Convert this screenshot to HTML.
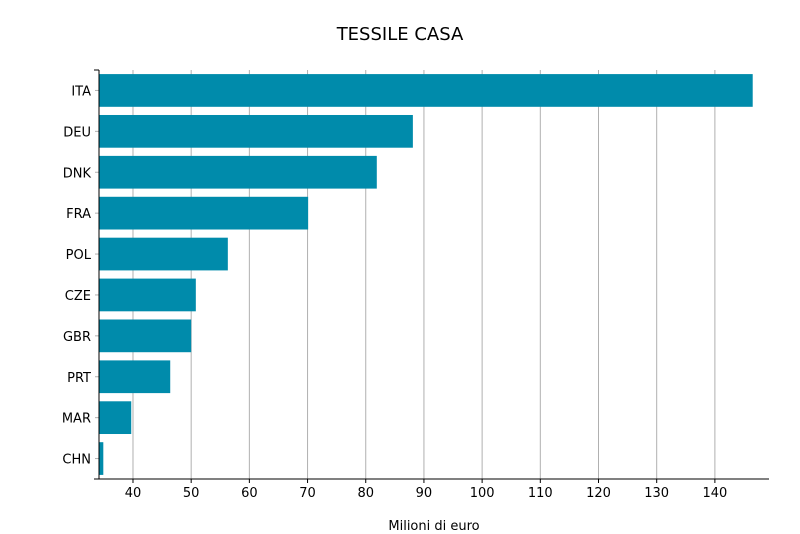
<!DOCTYPE html>
<html><head><meta charset="utf-8"><style>
body{margin:0;background:#fff;}
svg{display:block;font-family:"DejaVu Sans","Liberation Sans",sans-serif;}
</style></head><body>
<svg id="chart" width="800" height="534">
<text x="400" y="40" text-anchor="middle" font-size="18">TESSILE CASA</text>
<text x="434" y="530" text-anchor="middle" font-size="13">Milioni di euro</text>
<g id="grid"></g><g id="bars"></g><g id="axes"></g>
</svg>
<script>
const categories=["ITA","DEU","DNK","FRA","POL","CZE","GBR","PRT","MAR","CHN"];
const values=[146.5,88.1,81.9,70.1,56.3,50.8,50.0,46.4,39.7,34.9];
const xTicks=[40,50,60,70,80,90,100,110,120,130,140];
const xMin=34.16,xMax=149.3;
const L=99,R=769,T=70,B=479;
const NS="http://www.w3.org/2000/svg";
function x(v){return L+(v-xMin)/(xMax-xMin)*(R-L);}
const step=(B-T)/categories.length;
function yc(i){return T+step*(i+0.5);}
function mk(t,a,p){const e=document.createElementNS(NS,t);for(const k in a)e.setAttribute(k,a[k]);p.appendChild(e);return e;}
const grid=document.getElementById('grid'),bars=document.getElementById('bars'),axes=document.getElementById('axes');
xTicks.forEach(t=>{
 const g=mk('line',{x1:x(t),x2:x(t),y1:T,y2:B,stroke:'#b0b0b0','stroke-width':1},grid);
 
 
 const tk=mk('line',{x1:x(t),x2:x(t),y1:B,y2:B+4,stroke:'#000'},axes);
 
 
 const tl=mk('text',{x:x(t),y:B+18,'text-anchor':'middle','font-size':13},axes);
 tl.textContent=t;
 
 
});
categories.forEach((c,i)=>{
 const h=step*0.8;
 const b=mk('rect',{x:L,y:yc(i)-h/2,width:x(values[i])-L,height:h,fill:'#008bab'},bars);
 
 
 const tk=mk('line',{x1:L-4,x2:L,y1:yc(i),y2:yc(i),stroke:'#b0b0b0'},axes);
 
 
 const tl=mk('text',{x:91,y:yc(i)+5,'text-anchor':'end','font-size':13},axes);
 tl.textContent=c;
 
 
});
const ya=mk('line',{x1:L,x2:L,y1:T,y2:B,stroke:'#000'},axes);


const xa=mk('line',{x1:94,x2:R,y1:B,y2:B,stroke:'#000'},axes);


const tt=mk('line',{x1:94,x2:L,y1:T,y2:T,stroke:'#000'},axes);


</script>
</body></html>
